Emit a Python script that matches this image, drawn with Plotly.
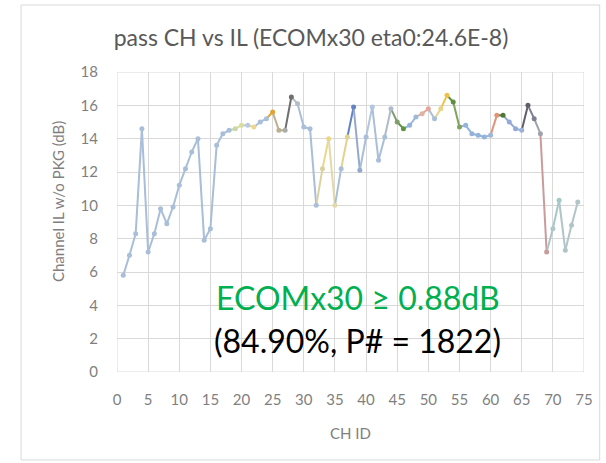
import plotly.graph_objects as go

# Channel insertion loss (without package) per passing channel ID
ch_id = list(range(1, 75))
il_db = [
    5.8, 7.0, 8.3, 14.6, 7.2, 8.3, 9.8, 8.9, 9.9, 11.2,
    12.2, 13.2, 14.0, 7.9, 8.6, 13.6, 14.3, 14.5, 14.6, 14.8,
    14.8, 14.7, 15.0, 15.2, 15.6, 14.5, 14.5, 16.5, 16.1, 14.7,
    14.6, 10.0, 12.2, 14.0, 10.0, 12.2, 14.1, 15.9, 12.1, 14.1,
    15.9, 12.7, 14.1, 15.8, 15.0, 14.6, 14.8, 15.3, 15.5, 15.8,
    15.2, 15.8, 16.6, 16.2, 14.7, 14.8, 14.3, 14.2, 14.1, 14.2,
    15.4, 15.4, 15.0, 14.6, 14.5, 16.0, 15.2, 14.3, 7.2, 8.6,
    10.3, 7.3, 8.8, 10.2,
]

x_ticks = list(range(0, 80, 5))
y_ticks = list(range(0, 20, 2))

title_text = "pass CH vs IL (ECOMx30 eta0:24.6E-8)"
x_title = "CH ID"
y_title = "Channel IL w/o PKG (dB)"
note_main = "ECOMx30 ≥ 0.88dB"
note_sub = "(84.90%, P# = 1822)"

# per-point colours (vary colours by point)
base_color = "#A9BED8"
color_overrides = {
    19: "#C9D6A8", 20: "#DADD9C", 21: "#B9C9DF", 22: "#EBD792",
    25: "#E1A23A", 26: "#BDB08E", 27: "#A9ACA8", 28: "#6E6E6E",
    29: "#B6BDC6", 33: "#D9D2A0", 34: "#EBD68A", 35: "#E4D9A6",
    37: "#E3D28C", 38: "#6483C2", 39: "#95A8CE", 41: "#B3C6DF",
    44: "#B0BACB", 45: "#7E9E6C", 46: "#5E9442", 47: "#93B3D8",
    48: "#9CB8DA", 49: "#DDB4A6", 50: "#E5A898", 52: "#E8D38A",
    53: "#EEC24A", 54: "#5E8F3E", 55: "#7FA45A", 56: "#93B3DB",
    57: "#93B3DB", 58: "#93B3DB", 59: "#93B3DB", 60: "#9DB7DA",
    61: "#E0957A", 62: "#4F7A35", 63: "#93AAD8", 64: "#93AAD8",
    65: "#9CB2DA", 66: "#5F5F6B", 67: "#7D7F93", 68: "#A0A3AE",
    69: "#C99C9C", 70: "#ADC6C9", 71: "#A3C9C6", 72: "#B1C5C9",
    73: "#B1C5C9", 74: "#B1C5C9",
}
point_colors = [color_overrides.get(c, base_color) for c in ch_id]

font_family = "Lato, 'Open Sans', sans-serif"
grid_color = "#D9D9D9"
label_color = "#7F7F7F"

fig = go.Figure()

# line segments, each coloured by the point it ends at
for i in range(len(ch_id) - 1):
    fig.add_trace(go.Scatter(
        x=[ch_id[i], ch_id[i + 1]],
        y=[il_db[i], il_db[i + 1]],
        mode="lines",
        line=dict(color=point_colors[i + 1], width=2),
        hoverinfo="skip",
        showlegend=False,
    ))

fig.add_trace(go.Scatter(
    x=ch_id,
    y=il_db,
    mode="markers",
    marker=dict(color=point_colors, size=5, symbol="circle"),
    showlegend=False,
))

fig.update_layout(
    width=606,
    height=463,
    margin=dict(l=117, r=22, t=72, b=91),
    paper_bgcolor="white",
    plot_bgcolor="white",
    font=dict(family=font_family, color=label_color, size=13),
    showlegend=False,
    title=dict(
        text=title_text,
        x=311 / 606, xanchor="center",
        y=1 - 38 / 463, yanchor="middle",
        font=dict(family=font_family, size=23, color="#595959"),
    ),
)

fig.update_xaxes(
    range=[0, 75],
    tickvals=x_ticks,
    showgrid=True, gridcolor=grid_color, gridwidth=1,
    zeroline=False, showline=False,
    ticks="", ticklabelstandoff=17,
    tickfont=dict(size=15, color=label_color),
)
fig.update_yaxes(
    range=[0, 18],
    tickvals=y_ticks,
    showgrid=True, gridcolor=grid_color, gridwidth=1,
    zeroline=False, showline=False,
    ticks="", ticklabelstandoff=18,
    tickfont=dict(size=15, color=label_color),
)

# outer plot-area edges
fig.add_shape(type="rect", xref="x", yref="y", x0=0, x1=75, y0=0, y1=18,
              line=dict(color=grid_color, width=1), layer="below")

# chart border
fig.add_shape(type="rect", xref="paper", yref="paper",
              x0=-96 / 467.3, x1=(600 - 117) / 467.3,
              y0=-(460 - 372) / 300, y1=(372 - 5) / 300,
              line=dict(color="#D9D9D9", width=1))

fig.add_annotation(
    text=x_title, xref="paper", yref="paper",
    x=0.5, y=-(433 - 372) / 300, xanchor="center", yanchor="middle",
    showarrow=False, font=dict(family=font_family, size=15, color=label_color),
)
fig.add_annotation(
    text=y_title, xref="paper", yref="paper", textangle=-90,
    x=-(117 - 58) / 467.3, y=(372 - 202) / 300,
    xanchor="center", yanchor="middle",
    showarrow=False, font=dict(family=font_family, size=15, color=label_color),
)
fig.add_annotation(
    text=note_main, xref="paper", yref="paper",
    x=(358 - 117) / 467.3, y=(372 - 297) / 300,
    xanchor="center", yanchor="middle", showarrow=False,
    font=dict(family=font_family, size=32, color="#00B050"),
)
fig.add_annotation(
    text=note_sub, xref="paper", yref="paper",
    x=(358 - 117) / 467.3, y=(372 - 340) / 300,
    xanchor="center", yanchor="middle", showarrow=False,
    font=dict(family=font_family, size=32, color="#000000"),
)

fig.write_html("out.html")
